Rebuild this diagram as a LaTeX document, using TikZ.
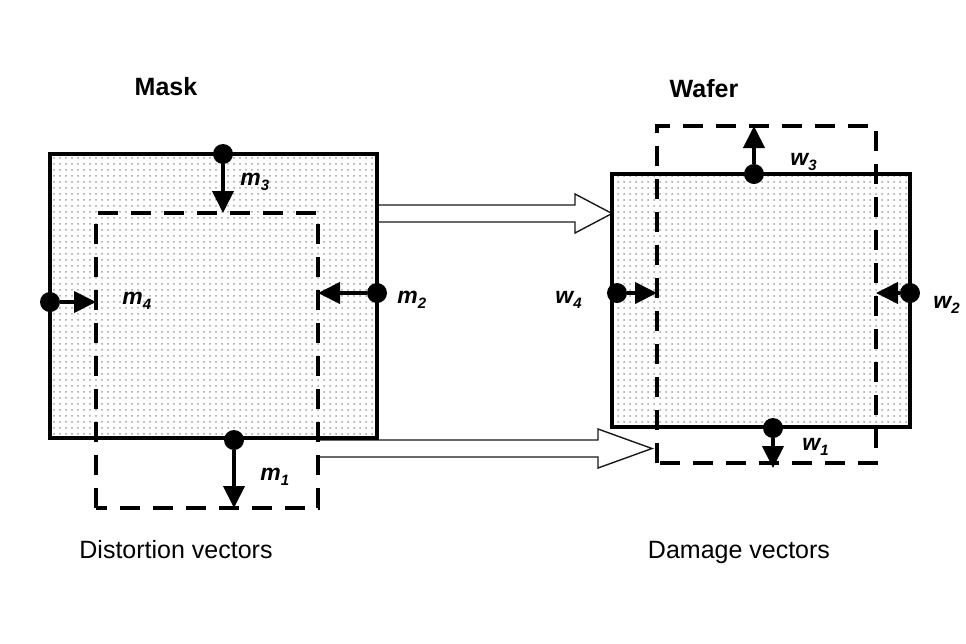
\documentclass[tikz,border=0pt]{standalone}
\usepackage{fontspec}
\setmainfont{Liberation Sans}
\usepackage{tikz}
\usetikzlibrary{positioning}
\usetikzlibrary{calc}
\usetikzlibrary{arrows.meta,patterns}
\def\vlab#1#2{\textbf{\textit{#1\raisebox{-0.45ex}{\fontsize{7.5}{8}\selectfont #2}}}}

\tikzset{
  plate/.style={line width=2pt, pattern=dots, pattern color=gray!75},
  shiftbox/.style={line width=1.8pt, dash pattern=on 10pt off 6.5pt},
  vec/.style={line width=2pt, -{Triangle[width=10.5pt,length=11pt]}},
  anchorpt/.style={circle, fill=black, inner sep=0pt, minimum size=10pt},
  vlabel/.style={anchor=base west, inner sep=0pt, font=\fontsize{11.5}{13}\selectfont},
  title/.style={anchor=base, inner sep=0pt, font=\fontsize{12.5}{15}\selectfont},
  fatarrow/.style={line width=0.7pt, draw=black!90},
}

\begin{document}
\begin{tikzpicture}[x=0.5pt,y=-0.5pt]

\useasboundingbox (0,0) rectangle (966,644);

% titles
\node[title] (masktitle) at (166,95) {\bfseries Mask};
\node[title] (wafertitle) at (704,97) {\bfseries Wafer};
\node[title] (masknote) at (176,558) {Distortion vectors};
\node[title] (wafernote) at (739,558) {Damage vectors};

% transfer arrows
\coordinate (mtail) at (377,213.5);
\coordinate (wtip) at (612,213.5);
\draw[fatarrow] ($(mtail)+(0,-8.5)$) -- ($(wtip)+(-37,-8.5)$) -- ($(wtip)+(-37,-19.5)$)
  -- (wtip) -- ($(wtip)+(-37,19.5)$) -- ($(wtip)+(-37,8.5)$) -- ($(mtail)+(0,8.5)$);

\coordinate (dtail) at (318,448.5);
\coordinate (dtip) at (652,448.5);
\draw[fatarrow] ($(dtail)+(0,-8.5)$) -- ($(dtip)+(-54,-8.5)$) -- ($(dtip)+(-54,-19.5)$)
  -- (dtip) -- ($(dtip)+(-54,19.5)$) -- ($(dtip)+(-54,8.5)$) -- ($(dtail)+(0,8.5)$);

% plates
\draw[plate] (50,154) rectangle (377,438);
\draw[plate] (612,174) rectangle (910,427);

% shifted outlines
\draw[shiftbox] (96,508) -- (96,213) -- (318,213) -- (318,508) -- cycle;
\draw[shiftbox] (657,463) -- (657,126) -- (876,126) -- (876,463) -- cycle;

% vector end points
\node[anchorpt] (m1p) at (234,440) {};
\node[anchorpt] (m2p) at (377,293) {};
\node[anchorpt] (m3p) at (223,154) {};
\node[anchorpt] (m4p) at (50,302) {};
\node[anchorpt] (w1p) at (773,428) {};
\node[anchorpt] (w2p) at (910,293) {};
\node[anchorpt] (w3p) at (754,174) {};
\node[anchorpt] (w4p) at (617,293) {};

\coordinate (m1t) at (234,508);
\coordinate (m2t) at (318,293);
\coordinate (m3t) at (223,213);
\coordinate (m4t) at (96,302);
\coordinate (w1t) at (773,468);
\coordinate (w2t) at (876,293);
\coordinate (w3t) at (754,126);
\coordinate (w4t) at (657,293);

\foreach \n in {m1,m2,m3,m4,w1,w2,w3,w4}
  \draw[vec] (\n p) -- (\n t);

% labels
\node[vlabel] (m1l) at (260,480) {\vlab{m}{1}};
\node[vlabel] (m2l) at (397,303) {\vlab{m}{2}};
\node[vlabel] (m3l) at (240,185) {\vlab{m}{3}};
\node[vlabel] (m4l) at (122,304) {\vlab{m}{4}};
\node[vlabel] (w1l) at (802,450) {\vlab{w}{1}};
\node[vlabel] (w2l) at (933,308) {\vlab{w}{2}};
\node[vlabel] (w3l) at (790,165) {\vlab{w}{3}};
\node[vlabel] (w4l) at (555,303) {\vlab{w}{4}};

\end{tikzpicture}
\end{document}
